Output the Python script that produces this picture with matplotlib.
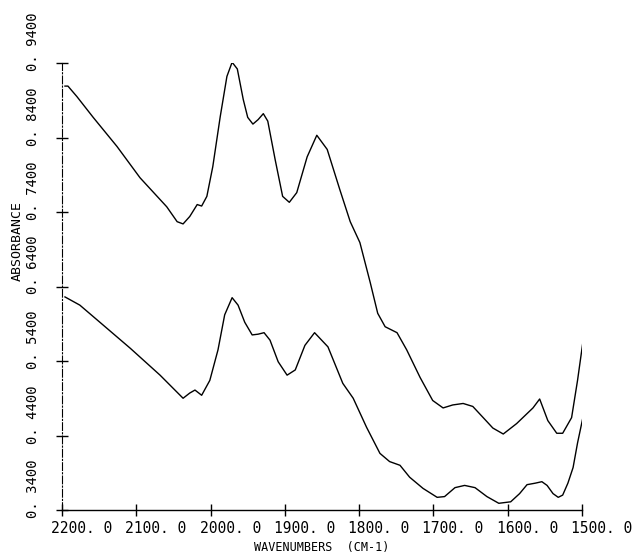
import numpy as np
import matplotlib
matplotlib.use("Agg")
import matplotlib.pyplot as plt
from matplotlib.transforms import ScaledTranslation

# ---- spectrum data (wavenumber cm-1, absorbance) ----
upper_wn = [2196, 2192, 2180, 2158, 2126, 2095, 2059, 2045, 2037, 2028, 2018, 2012,
            2005, 1997, 1987, 1978, 1971, 1964, 1956, 1950, 1943, 1936, 1929, 1923,
            1913, 1903, 1894, 1884, 1870, 1857, 1843, 1826, 1812, 1799, 1785, 1775,
            1765, 1749, 1736, 1718, 1701, 1687, 1674, 1660, 1647, 1633, 1620, 1606,
            1588, 1566, 1557, 1546, 1534, 1526, 1514, 1506, 1499]
upper_abs = [0.909, 0.909, 0.895, 0.867, 0.828, 0.786, 0.747, 0.727, 0.724, 0.734, 0.750, 0.748,
             0.761, 0.801, 0.868, 0.922, 0.941, 0.932, 0.891, 0.867, 0.858, 0.864, 0.872, 0.862,
             0.810, 0.761, 0.753, 0.766, 0.814, 0.843, 0.824, 0.770, 0.727, 0.699, 0.645, 0.604,
             0.586, 0.578, 0.555, 0.518, 0.487, 0.477, 0.481, 0.483, 0.479, 0.464, 0.450, 0.442,
             0.456, 0.477, 0.489, 0.460, 0.443, 0.443, 0.464, 0.514, 0.564]

lower_wn = [2196, 2176, 2149, 2108, 2068, 2048, 2037, 2028, 2021, 2012, 2001, 1990,
            1981, 1971, 1963, 1954, 1944, 1936, 1928, 1920, 1909, 1897, 1886, 1873,
            1860, 1842, 1822, 1808, 1790, 1772, 1759, 1745, 1732, 1714, 1695, 1685,
            1671, 1658, 1644, 1628, 1612, 1596, 1584, 1574, 1563, 1554, 1547, 1539,
            1532, 1526, 1519, 1512, 1506, 1499]
lower_abs = [0.626, 0.615, 0.592, 0.557, 0.521, 0.501, 0.490, 0.497, 0.501, 0.494, 0.514, 0.555,
             0.602, 0.625, 0.615, 0.592, 0.575, 0.576, 0.578, 0.568, 0.539, 0.521, 0.528, 0.561,
             0.578, 0.559, 0.510, 0.490, 0.451, 0.416, 0.405, 0.400, 0.384, 0.369, 0.357, 0.358,
             0.370, 0.373, 0.370, 0.358, 0.349, 0.351, 0.362, 0.374, 0.376, 0.378, 0.373, 0.362,
             0.357, 0.360, 0.376, 0.397, 0.430, 0.463]

x_ticks = [2200, 2100, 2000, 1900, 1800, 1700, 1600, 1500]
x_ticklabels = ["2200. 0", "2100. 0", "2000. 0", "1900. 0", "1800. 0", "1700. 0", "1600. 0", "1500. 0"]
y_ticks = [0.34, 0.44, 0.54, 0.64, 0.74, 0.84, 0.94]
y_ticklabels = ["0. 3400", "0. 4400", "0. 5400", "0. 6400", "0. 7400", "0. 8400", "0. 9400"]

MONO = "DejaVu Sans Mono"

fig = plt.figure(figsize=(6.36, 5.55), dpi=100)
ax = fig.add_axes([62 / 636, 1 - 510 / 555, (582 - 62) / 636, (510 - 63) / 555])

ax.plot(upper_wn, upper_abs, color="black", lw=1.0)
ax.plot(lower_wn, lower_abs, color="black", lw=1.0)

ax.set_xlim(2200, 1500)
ax.set_ylim(0.34, 0.94)

for s in ("top", "right"):
    ax.spines[s].set_visible(False)
ax.spines["left"].set_linestyle((0, (7, 2, 1, 2)))
ax.spines["left"].set_linewidth(0.8)
ax.spines["bottom"].set_linewidth(1.0)

ax.set_xticks(x_ticks)
ax.set_xticklabels(x_ticklabels, fontfamily=MONO, fontsize=10.5)
ax.set_yticks(y_ticks)
ax.set_yticklabels(y_ticklabels, fontfamily=MONO, fontsize=10, rotation=90)
ax.tick_params(axis="both", direction="inout", length=8, width=1.0, color="black")
ax.tick_params(axis="x", pad=4)
ax.tick_params(axis="y", pad=17)

# plotter-style labels start a little before the tick
dx = ScaledTranslation(-11 / 100, 0, fig.dpi_scale_trans)
for lab in ax.get_xticklabels():
    lab.set_horizontalalignment("left")
    lab.set_transform(lab.get_transform() + dx)
dy = ScaledTranslation(0, -8 / 100, fig.dpi_scale_trans)
for lab in ax.get_yticklabels():
    lab.set_verticalalignment("bottom")
    lab.set_horizontalalignment("center")
    lab.set_transform(lab.get_transform() + dy)

fig.text(322 / 636, 1 - 547 / 555, "WAVENUMBERS  (CM-1)", fontfamily=MONO, fontsize=8.5,
         ha="center", va="center")
fig.text(17 / 636, 1 - 241 / 555, "ABSORBANCE", fontfamily=MONO, fontsize=9.5,
         ha="center", va="center", rotation=90)

fig.savefig("out.png", dpi=100)
